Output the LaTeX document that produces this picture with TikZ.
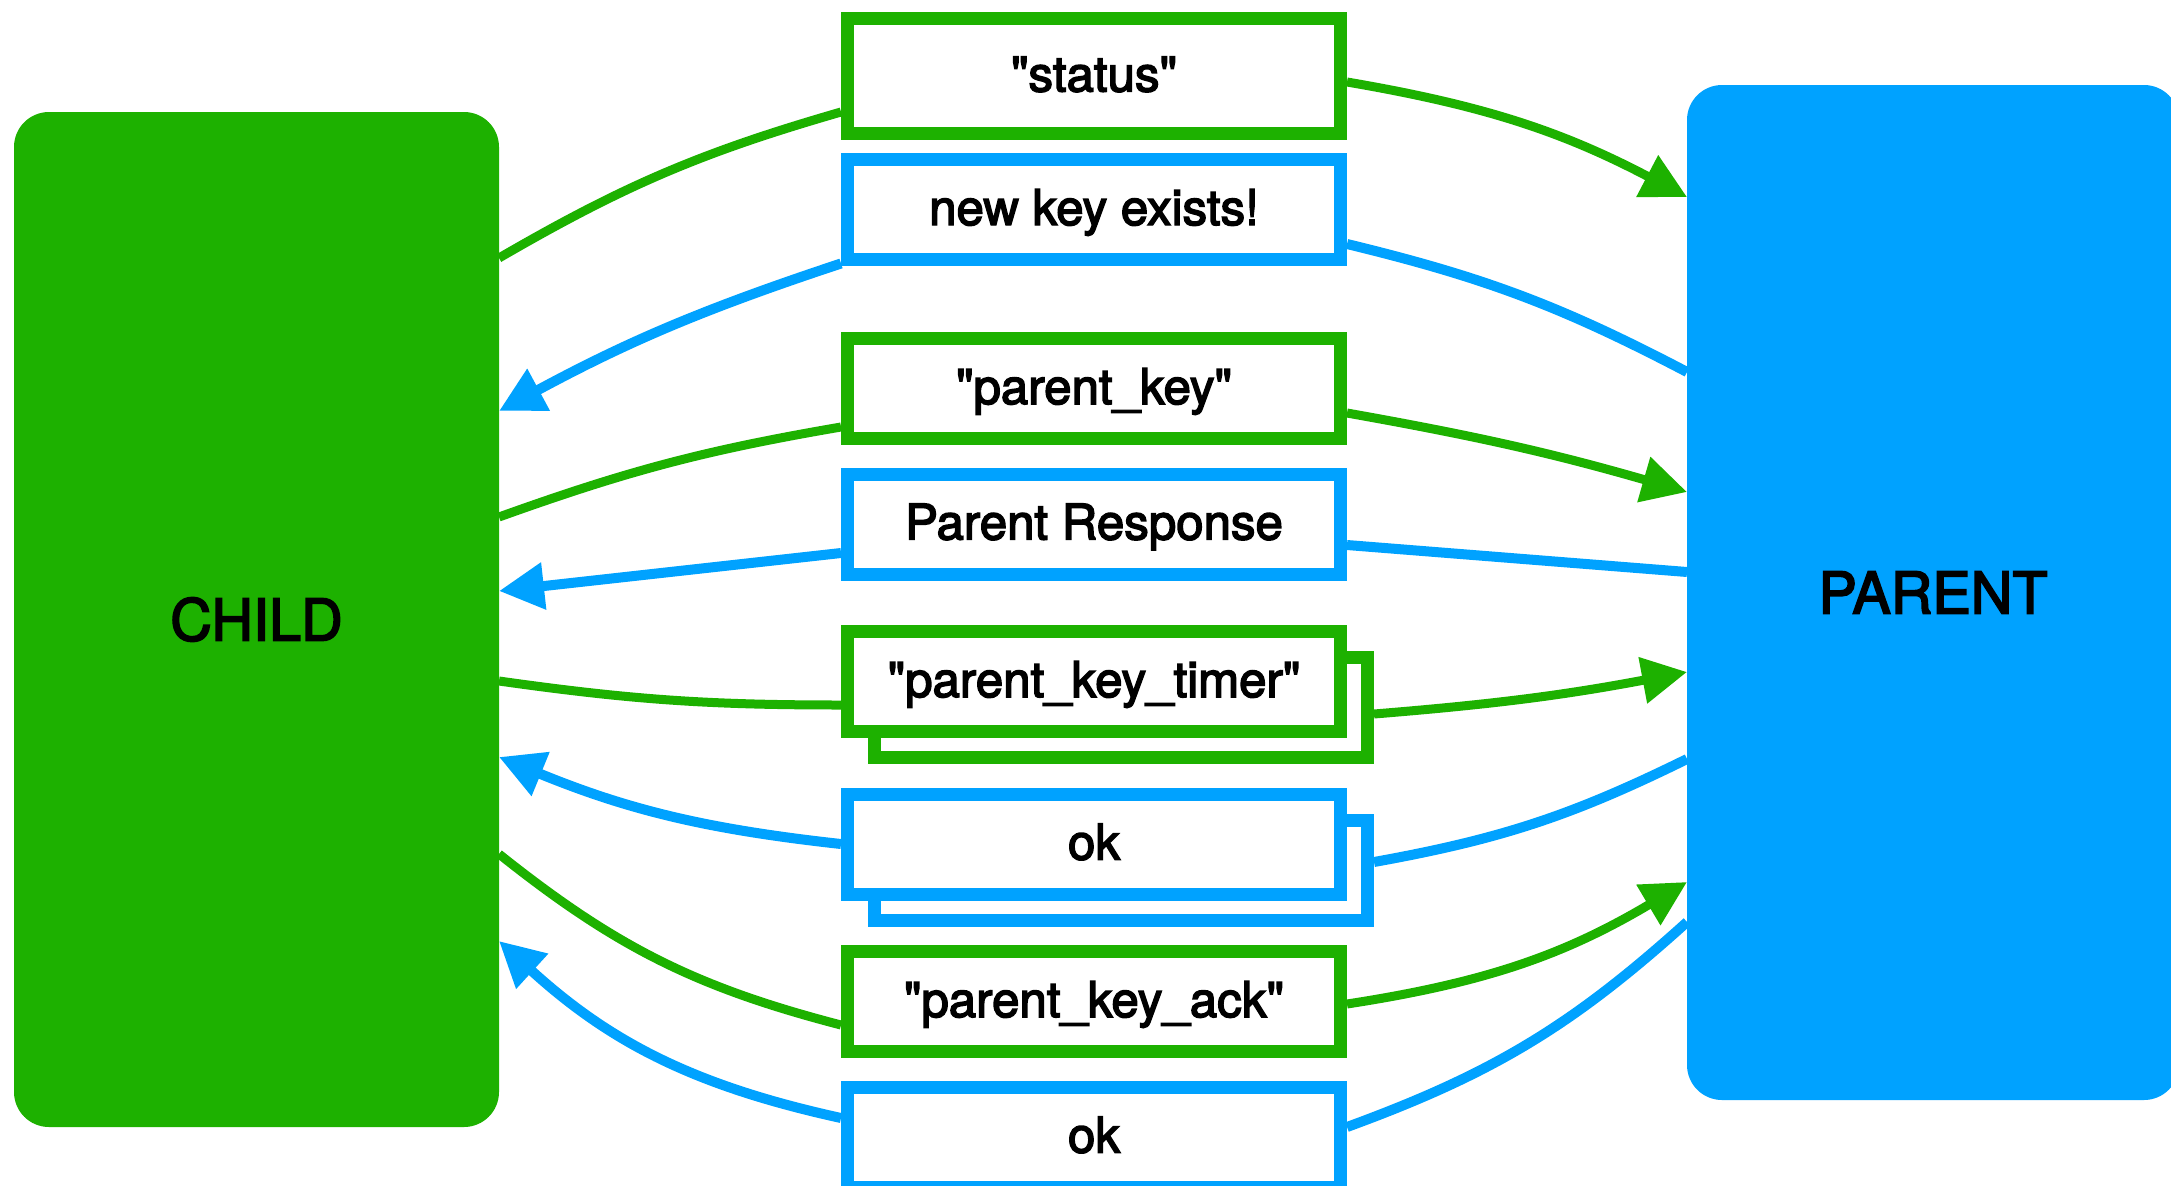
\documentclass[tikz,border=0pt]{standalone}
\usepackage{fontspec}
\setmainfont{TeX Gyre Heros}[Ligatures=TeXOff, FakeBold=3]
\usetikzlibrary{positioning,arrows.meta}
\definecolor{kgreen}{RGB}{29,177,0}
\definecolor{kblue}{RGB}{0,162,255}

\begin{document}
\begin{tikzpicture}[
  party/.style={rectangle, rounded corners=3.5mm, inner sep=0pt, outer sep=0pt, minimum height=10.15cm, font=\fontsize{16.4}{20}\selectfont},
  greenmsg/.style={rectangle, draw=kgreen, fill=white, line width=1.3mm, minimum width=4.93cm, minimum height=1cm,
    text height=0.37cm, text depth=0.06cm, font=\fontsize{14}{17}\selectfont},
  bluemsg/.style={greenmsg, draw=kblue},
  greenedge/.style={draw=kgreen, line width=0.9mm},
  blueedge/.style={draw=kblue, line width=1mm},
  msgarrow/.style={-{Triangle[length=4.5mm, width=4.5mm]}}
]
\useasboundingbox (0,0) rectangle (21.71,11.85);

% --- the two parties ---
\node[party, fill=kgreen, minimum width=4.85cm] (child) at (2.565,5.655) {CHILD};
\node[party, fill=kblue, minimum width=4.92cm] (parent) at (19.33,5.925) {PARENT};

% --- messages, top to bottom (stacked ones get a copy behind) ---
\node[greenmsg, minimum height=1.15cm] (st) at (10.94,11.09) {"status"};
\node[bluemsg] (nk) at (10.94,9.755) {new key exists!};
\node[greenmsg] (pk) at (10.94,7.965) {"parent\_key"};
\node[bluemsg] (rs) at (10.94,6.61) {Parent Response};
\node[greenmsg] (tmb) at (11.21,4.775) {};
\node[greenmsg] (tm) at (10.94,5.035) {"parent\_key\_timer"};
\node[bluemsg] (okb) at (11.21,3.15) {};
\node[bluemsg] (ok) at (10.94,3.41) {ok};
\node[greenmsg] (ak) at (10.94,1.835) {"parent\_key\_ack"};
\node[bluemsg] (ok2) at (10.94,0.48) {ok};

% --- green: child -> message -> parent ---
\draw[greenedge] ([yshift=3.615cm]child.east) to[bend left=7] ([yshift=-0.36cm]st.west);
\draw[greenedge, msgarrow] ([yshift=-0.06cm]st.east) to[bend left=9] ([yshift=3.955cm]parent.west);
\draw[greenedge] ([yshift=1.025cm]child.east) to[bend left=5] ([yshift=-0.385cm]pk.west);
\draw[greenedge, msgarrow] ([yshift=-0.245cm]pk.east) to[bend left=3] ([yshift=1.005cm]parent.west);
\draw[greenedge] ([yshift=-0.615cm]child.east) to[bend right=4] ([yshift=-0.235cm]tm.west);
\draw[greenedge, msgarrow] ([yshift=-0.065cm]tmb.east) to[bend right=3] ([yshift=-0.795cm]parent.west);
\draw[greenedge] ([yshift=-2.345cm]child.east) to[bend right=12] ([yshift=-0.235cm]ak.west);
\draw[greenedge, msgarrow] ([yshift=-0.025cm]ak.east) to[bend right=11] ([yshift=-2.895cm]parent.west);

% --- blue: parent -> message -> child ---
\draw[blueedge] ([yshift=-0.345cm]nk.east) to[bend left=7] ([yshift=2.205cm]parent.west);
\draw[blueedge, msgarrow] ([yshift=-0.54cm]nk.west) to[bend right=5] ([yshift=2.085cm]child.east);
\draw[blueedge] ([yshift=-0.21cm]rs.east) -- ([yshift=0.205cm]parent.west);
\draw[blueedge, msgarrow] ([yshift=-0.29cm]rs.west) -- ([yshift=0.285cm]child.east);
\draw[blueedge] ([yshift=0.08cm]okb.east) to[bend right=8] ([yshift=-1.665cm]parent.west);
\draw[blueedge, msgarrow] (ok.west) to[bend left=8] ([yshift=-1.375cm]child.east);
\draw[blueedge] ([yshift=0.1cm]ok2.east) to[bend right=11] ([yshift=-3.295cm]parent.west);
\draw[blueedge, msgarrow] ([yshift=0.19cm]ok2.west) to[bend left=15] ([yshift=-3.215cm]child.east);

\end{tikzpicture}
\end{document}
